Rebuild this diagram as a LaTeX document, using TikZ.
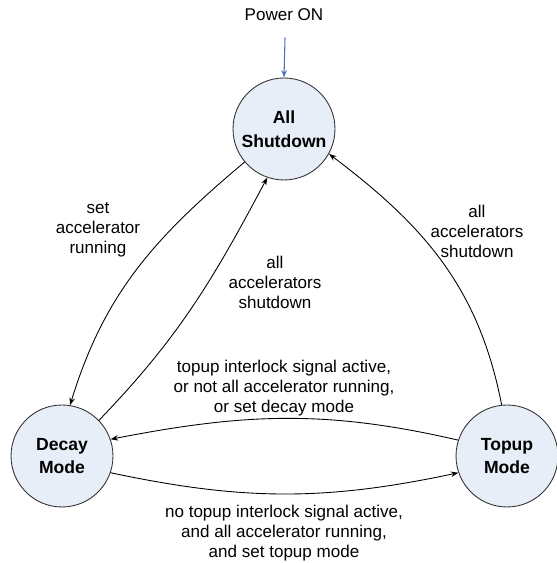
\documentclass[tikz,border=0pt]{standalone}
\usepackage{fontspec}
\setmainfont{Liberation Sans}
\usetikzlibrary{arrows.meta}
\definecolor{stfill}{RGB}{232,238,247}
\definecolor{pwblue}{RGB}{68,114,196}
\begin{document}
\begin{tikzpicture}[x=0.02cm,y=0.02cm,line join=round,line cap=round,>={Stealth[length=1.5mm,width=1.1mm]},
	font=\fontsize{9.7}{11.4}\selectfont,
	state/.style={circle,draw=black!80,line width=0.5pt,fill=stfill,minimum size=2.04cm,inner sep=0pt,align=center,font=\fontsize{10}{13.6}\selectfont\bfseries},
	trans/.style={->,line width=0.5pt},
	lbl/.style={align=center}]
	
	% Rahmen
	\useasboundingbox (0,0) rectangle (556,563);
	
	% Zustaende
	\node[state] (shut) at (284,434) {All\\Shutdown};
	\node[state] (decay) at (62,107) {Decay\\Mode};
	\node[state] (topup) at (507,107) {Topup\\Mode};
	
	% Einschalten
	\node (pwr) at (284,548) {Power ON};
	\coordinate (pwrend) at (285,525);
	\draw[->,pwblue,line width=0.6pt] (pwrend) -- (shut.north);
	
	% Uebergaenge
	\draw[trans] (shut.220) to[out=220,in=73] (decay.81);
	\draw[trans] (decay.44) to[out=46,in=242] (shut.251);
	\draw[trans] (topup.96) to[out=101,in=-37] (shut.331);
	\draw[trans] (topup.162) to[out=167,in=11] (decay.19);
	\draw[trans] (decay.-19) to[out=-12,in=192] (topup.199);
	
	% Beschriftungen
	\node[lbl] (l1) at (98,333) {set\\accelerator\\running};
	\node[lbl] (l2) at (275,281) {all\\accelerators\\shutdown};
	\node[lbl] (l3) at (477,332) {all\\accelerators\\shutdown};
	\node[lbl] (l4) at (284,175) {topup interlock signal active,\\or not all accelerator running,\\or set decay mode};
	\node[lbl] (l5) at (284,30) {no topup interlock signal active,\\and all accelerator running,\\and set topup mode};
	
\end{tikzpicture}
\end{document}
